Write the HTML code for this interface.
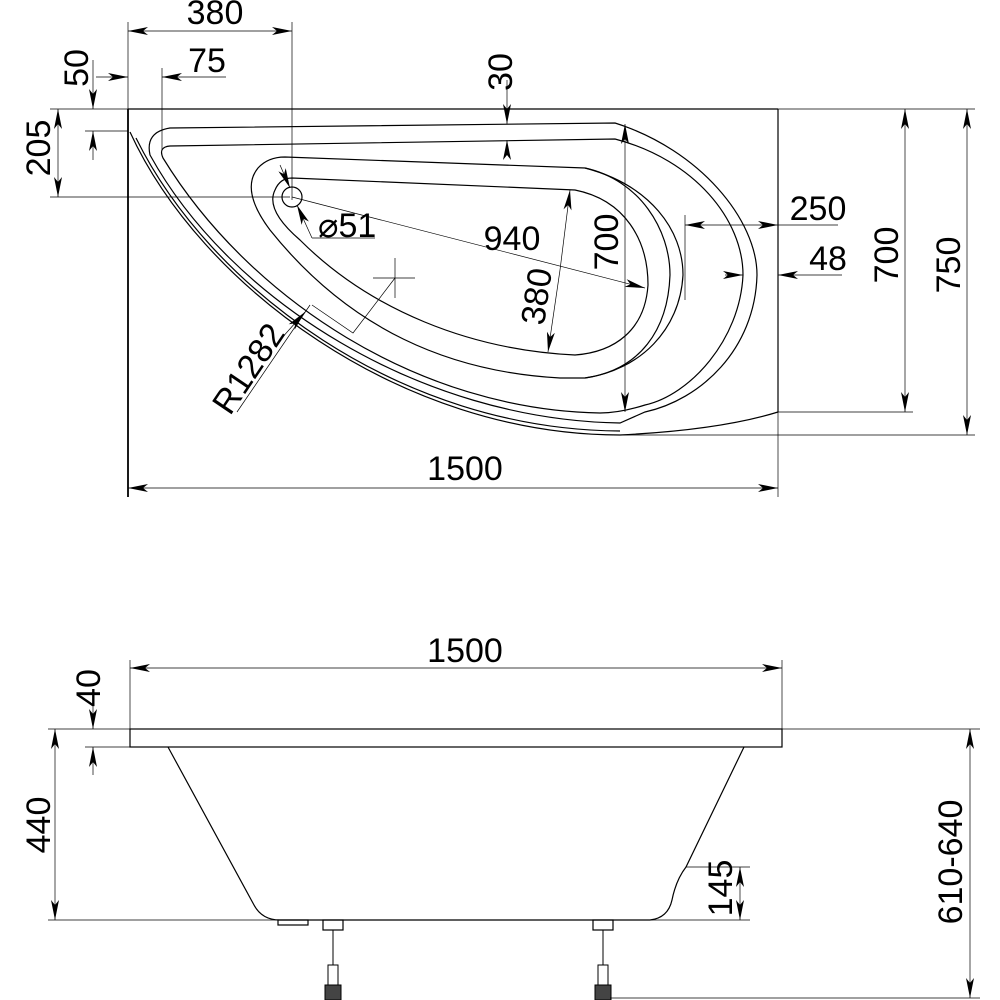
<!DOCTYPE html>
<html><head><meta charset="utf-8"><style>
html,body{margin:0;padding:0;background:#fff}
svg{display:block}
text{font-family:"Liberation Sans",sans-serif;fill:#000}
</style></head><body>
<svg width="1000" height="1000" viewBox="0 0 1000 1000" xmlns="http://www.w3.org/2000/svg">
<defs>
<marker id="a" viewBox="0 0 20 8" refX="20" refY="4" markerWidth="20" markerHeight="8" markerUnits="userSpaceOnUse" orient="auto"><path d="M0,0 L20,4 L0,8 L5,4 Z" fill="#000"/></marker>
</defs>
<g fill="none" stroke="#000" stroke-width="1.2">
<line x1="128" y1="109" x2="128" y2="497" stroke-width="1.8"/>
<line x1="128" y1="109" x2="778" y2="109"/>
<line x1="778" y1="109" x2="778" y2="412"/>
<path d="M130,132 C200,285 400,435 620,435 Q720,430 778,412"/>
<path d="M136,138 C210,288 400,430 620,431"/>
<path d="M170,128 L615,123 C700,150 757,220 757,275 C755,350 700,400 645,412 L620,423 C420,420 230,300 150,155 Q145,132 170,128 Z"/>
<path d="M170,146 L615,139 C695,160 743,220 743,275 C740,340 690,395 645,405 Q620,413 600,413 C420,410 250,300 163,158 Q158,147 170,146 Z"/>
<path d="M285,157 L585,168 C650,185 683,230 683,275 C680,330 640,370 585,378 L560,378 C450,372 350,330 270,230 Q240,190 258,168 Q268,157 285,157 Z"/>
<path d="M292,178 L575,190 C625,200 648,240 648,285 C645,330 615,352 575,355 C470,350 370,310 300,240 Q265,210 275,190 Q280,178 292,178 Z"/>
<path d="M585,168 C640,180 670,230 670,275 C668,330 640,370 585,378"/>
<circle cx="292" cy="197" r="10"/>
</g>
<g fill="none" stroke="#000" stroke-width="0.7">
<line x1="128" y1="22" x2="128" y2="109"/>
<line x1="292" y1="22" x2="292" y2="200"/>
<line x1="162" y1="68" x2="162" y2="150"/>
<line x1="85" y1="131" x2="128" y2="131"/>
<line x1="50" y1="109" x2="128" y2="109"/>
<line x1="50" y1="197" x2="290" y2="197"/>
<line x1="778" y1="109" x2="975" y2="109"/>
<line x1="778" y1="412" x2="913" y2="412"/>
<line x1="620" y1="435" x2="975" y2="435"/>
<line x1="778" y1="412" x2="778" y2="497"/>
<line x1="685" y1="215" x2="685" y2="300"/>
<line x1="210" y1="31" x2="128" y2="31" marker-end="url(#a)"/>
<line x1="210" y1="31" x2="292" y2="31" marker-end="url(#a)"/>
<line x1="96" y1="77" x2="128" y2="77" marker-end="url(#a)"/>
<line x1="226" y1="77" x2="162" y2="77" marker-end="url(#a)"/>
<line x1="93" y1="60" x2="93" y2="109" marker-end="url(#a)"/>
<line x1="93" y1="160" x2="93" y2="131" marker-end="url(#a)"/>
<line x1="58" y1="153" x2="58" y2="109" marker-end="url(#a)"/>
<line x1="58" y1="153" x2="58" y2="197" marker-end="url(#a)"/>
<line x1="507" y1="80" x2="507" y2="124" marker-end="url(#a)"/>
<line x1="507" y1="155" x2="507" y2="140" marker-end="url(#a)"/>
<line x1="292" y1="197" x2="645" y2="288" marker-end="url(#a)"/>
<line x1="560" y1="270" x2="570" y2="190" marker-end="url(#a)"/>
<line x1="560" y1="270" x2="548" y2="352" marker-end="url(#a)"/>
<line x1="625" y1="270" x2="625" y2="124" marker-end="url(#a)"/>
<line x1="625" y1="270" x2="625" y2="412" marker-end="url(#a)"/>
<line x1="730" y1="225" x2="685" y2="225" marker-end="url(#a)"/>
<line x1="730" y1="225" x2="778" y2="225" marker-end="url(#a)"/>
<line x1="778" y1="225" x2="838" y2="225"/>
<line x1="725" y1="275" x2="743" y2="275" marker-end="url(#a)"/>
<line x1="842" y1="275" x2="778" y2="275" marker-end="url(#a)"/>
<line x1="905" y1="260" x2="905" y2="109" marker-end="url(#a)"/>
<line x1="905" y1="260" x2="905" y2="412" marker-end="url(#a)"/>
<line x1="967" y1="270" x2="967" y2="109" marker-end="url(#a)"/>
<line x1="967" y1="270" x2="967" y2="435" marker-end="url(#a)"/>
<line x1="450" y1="488" x2="128" y2="488" marker-end="url(#a)"/>
<line x1="450" y1="488" x2="778" y2="488" marker-end="url(#a)"/>
<line x1="312" y1="238" x2="375" y2="238"/>
<line x1="312" y1="238" x2="297" y2="205" marker-end="url(#a)"/>
<line x1="280" y1="165" x2="290" y2="188" marker-end="url(#a)"/>
<line x1="237" y1="412" x2="310" y2="305"/>
<path d="M312,305 L353,333 L395,278"/>
<line x1="373" y1="278" x2="415" y2="278"/>
<line x1="395" y1="258" x2="395" y2="298"/>
<line x1="280" y1="340" x2="305" y2="312" marker-end="url(#a)"/>
</g>
<text x="215" y="24" font-size="34" text-anchor="middle">380</text>
<text x="207" y="72" font-size="34" text-anchor="middle">75</text>
<text transform="translate(88,68) rotate(-90)" font-size="34" text-anchor="middle">50</text>
<text transform="translate(512,72) rotate(-90)" font-size="34" text-anchor="middle">30</text>
<text transform="translate(50,148) rotate(-90)" font-size="34" text-anchor="middle">205</text>
<text x="318" y="237" font-size="34">⌀51</text>
<text x="512" y="250" font-size="34" text-anchor="middle">940</text>
<text transform="translate(548,298) rotate(-82)" font-size="34" text-anchor="middle">380</text>
<text transform="translate(618,242) rotate(-90)" font-size="34" text-anchor="middle">700</text>
<text x="818" y="220" font-size="34" text-anchor="middle">250</text>
<text x="828" y="270" font-size="34" text-anchor="middle">48</text>
<text transform="translate(898,255) rotate(-90)" font-size="34" text-anchor="middle">700</text>
<text transform="translate(960,265) rotate(-90)" font-size="34" text-anchor="middle">750</text>
<text transform="translate(258,375) rotate(-56)" font-size="34" text-anchor="middle">R1282</text>
<text x="465" y="480" font-size="34" text-anchor="middle">1500</text>

<g fill="none" stroke="#000" stroke-width="1.2">
<rect x="130" y="729" width="652" height="18"/>
<path d="M168,747 L254,905 Q262,920 280,920 L650,920 Q668,918 672,900 Q676,880 686,867 L744,747"/>
<rect x="278" y="920" width="30" height="5"/>
<rect x="323" y="920" width="20" height="10"/>
<rect x="593" y="920" width="20" height="10"/>
</g>
<g stroke="#000" stroke-width="1">
<line x1="333" y1="930" x2="333" y2="965"/><line x1="603" y1="930" x2="603" y2="965"/>
<rect x="328" y="965" width="10" height="20" fill="#fff"/><rect x="598" y="965" width="10" height="20" fill="#fff"/>
<rect x="325" y="985" width="16" height="15" fill="#444"/><rect x="595" y="985" width="16" height="15" fill="#444"/>
</g>
<g fill="none" stroke="#000" stroke-width="0.7">
<line x1="130" y1="660" x2="130" y2="729"/>
<line x1="782" y1="660" x2="782" y2="729"/>
<line x1="450" y1="668" x2="130" y2="668" marker-end="url(#a)"/>
<line x1="450" y1="668" x2="782" y2="668" marker-end="url(#a)"/>
<line x1="48" y1="729" x2="980" y2="729"/>
<line x1="85" y1="747" x2="130" y2="747"/>
<line x1="48" y1="920" x2="750" y2="920"/>
<line x1="686" y1="867" x2="750" y2="867"/>
<line x1="610" y1="998" x2="980" y2="998"/>
<line x1="93" y1="690" x2="93" y2="729" marker-end="url(#a)"/>
<line x1="93" y1="775" x2="93" y2="747" marker-end="url(#a)"/>
<line x1="55" y1="820" x2="55" y2="729" marker-end="url(#a)"/>
<line x1="55" y1="820" x2="55" y2="920" marker-end="url(#a)"/>
<line x1="740" y1="893" x2="740" y2="867" marker-end="url(#a)"/>
<line x1="740" y1="893" x2="740" y2="920" marker-end="url(#a)"/>
<line x1="970" y1="860" x2="970" y2="729" marker-end="url(#a)"/>
<line x1="970" y1="860" x2="970" y2="998" marker-end="url(#a)"/>
</g>
<text x="465" y="662" font-size="34" text-anchor="middle">1500</text>
<text transform="translate(100,688) rotate(-90)" font-size="34" text-anchor="middle">40</text>
<text transform="translate(50,825) rotate(-90)" font-size="34" text-anchor="middle">440</text>
<text transform="translate(732,888) rotate(-90)" font-size="34" text-anchor="middle">145</text>
<text transform="translate(962,862) rotate(-90)" font-size="34" text-anchor="middle">610-640</text>
</svg>
</body></html>
